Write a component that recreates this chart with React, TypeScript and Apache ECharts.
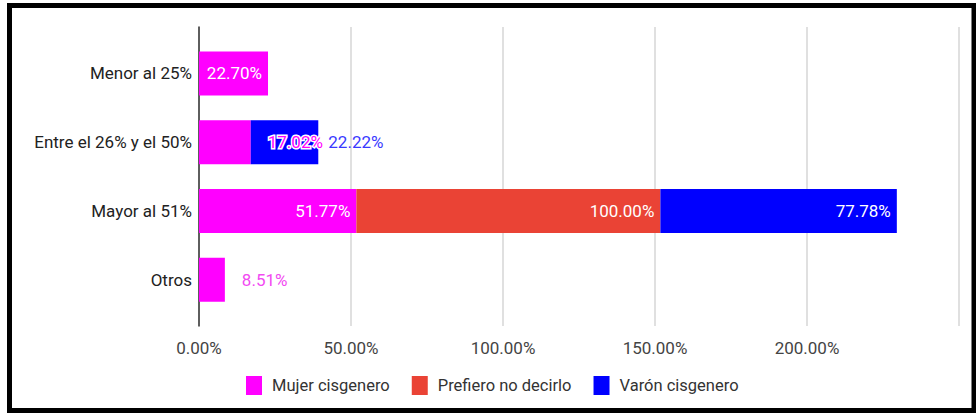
import React, { useEffect, useRef } from "react";
import * as echarts from "echarts";

const categories = ["Menor al 25%", "Entre el 26% y el 50%", "Mayor al 51%", "Otros"];
const seriesNames = ["Mujer cisgenero", "Prefiero no decirlo", "Varón cisgenero"];
const mujer: (number | null)[] = [22.7, 17.02, 51.77, 8.51];
const prefiero: (number | null)[] = [null, null, 100.0, null];
const varon: (number | null)[] = [null, 22.22, 77.78, null];
const axisMin = 0;
const axisMax = 250;
const axisInterval = 50;

const FONT = "Roboto";
const FS = 17;
const fmt = (v: number) => v.toFixed(2) + "%";

export default function App() {
  const ref = useRef<HTMLDivElement>(null);
  useEffect(() => {
    if (!ref.current) return;
    const chart = echarts.init(ref.current, null, { renderer: "svg" });

    const insideLabel = {
      show: true,
      position: "insideRight",
      distance: 6,
      color: "#fff",
      fontFamily: FONT,
      fontSize: FS,
      formatter: (p: any) => fmt(p.value),
    };

    const mujerData = mujer.map((v, i) => {
      if (v == null) return null;
      if (i === 1) {
        return {
          value: v,
          label: {
            show: true,
            position: "right",
            distance: 17,
            color: "#ff00ff",
            textBorderColor: "#fff",
            textBorderWidth: 3,
            fontFamily: FONT,
            fontSize: FS,
            formatter: (p: any) => fmt(p.value),
          },
        };
      }
      if (i === 3) {
        return {
          value: v,
          label: {
            show: true,
            position: "right",
            distance: 17,
            color: "#f24af2",
            fontFamily: FONT,
            fontSize: FS,
            formatter: (p: any) => fmt(p.value),
          },
        };
      }
      return { value: v };
    });

    const varonData = varon.map((v, i) => {
      if (v == null) return null;
      if (i === 1) {
        return {
          value: v,
          label: {
            show: true,
            position: "right",
            distance: 10,
            color: "#3a3aff",
            fontFamily: FONT,
            fontSize: FS,
            formatter: (p: any) => fmt(p.value),
          },
        };
      }
      return { value: v };
    });

    chart.setOption({
      animation: false,
      backgroundColor: "#fff",
      textStyle: { fontFamily: FONT },
      graphic: [
        {
          type: "rect",
          shape: { x: 9.5, y: 5.5, width: 964.5, height: 405 },
          style: { fill: "none", stroke: "#000", lineWidth: 5 },
          z: 100,
        },
      ],
      legend: {
        left: 241,
        top: 371,
        itemWidth: 16,
        itemHeight: 19,
        itemGap: 22,
        icon: "rect",
        data: seriesNames,
        textStyle: { fontFamily: FONT, fontSize: 16.5, color: "#333", padding: [0, 0, 0, 5] },
      },
      grid: [
        { left: 199, right: 17, top: 39, height: 275, containLabel: false },
        { left: 199, right: 17, top: 27, height: 299, containLabel: false },
      ],
      xAxis: [
        {
          gridIndex: 0,
          type: "value",
          min: axisMin,
          max: axisMax,
          interval: axisInterval,
          show: false,
        },
        {
          gridIndex: 1,
          type: "value",
          min: axisMin,
          max: axisMax,
          interval: axisInterval,
          axisLine: { show: false },
          axisTick: { show: false },
          splitLine: { show: true, lineStyle: { color: "#d6d6d6", width: 1.5 } },
          axisLabel: {
            margin: 13,
            color: "#444",
            fontFamily: FONT,
            fontSize: FS,
            showMaxLabel: false,
            formatter: (v: number) => (v === axisMax ? "" : fmt(v)),
          },
        },
      ],
      yAxis: [
        {
          gridIndex: 0,
          type: "category",
          inverse: true,
          data: categories,
          axisLine: { show: false },
          axisTick: { show: false },
          axisLabel: { margin: 7, color: "#222", fontFamily: FONT, fontSize: FS },
        },
        {
          gridIndex: 1,
          type: "value",
          min: 0,
          max: 1,
          axisLine: { show: true, onZero: false, lineStyle: { color: "#333", width: 1.5 } },
          axisTick: { show: false },
          axisLabel: { show: false },
          splitLine: { show: false },
        },
      ],
      series: [
        {
          name: seriesNames[0],
          type: "bar",
          stack: "total",
          xAxisIndex: 0,
          yAxisIndex: 0,
          barWidth: 44,
          itemStyle: { color: "#ff00ff" },
          label: insideLabel,
          data: mujerData,
        },
        {
          name: seriesNames[1],
          type: "bar",
          stack: "total",
          xAxisIndex: 0,
          yAxisIndex: 0,
          barWidth: 44,
          itemStyle: { color: "#ea4335" },
          label: insideLabel,
          data: prefiero,
        },
        {
          name: seriesNames[2],
          type: "bar",
          stack: "total",
          xAxisIndex: 0,
          yAxisIndex: 0,
          barWidth: 44,
          itemStyle: { color: "#0000ff" },
          label: insideLabel,
          data: varonData,
        },
      ],
    });
    return () => chart.dispose();
  }, []);

  return (
    <div
      ref={ref}
      style={{ position: "fixed", left: 0, top: 0, width: 976, height: 413, background: "#fff" }}
    />
  );
}
